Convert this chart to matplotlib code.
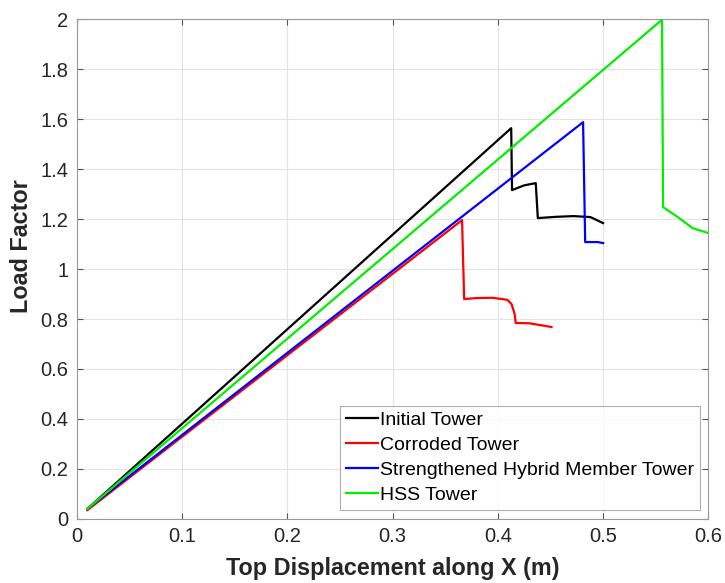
import matplotlib
matplotlib.use("Agg")
import matplotlib.pyplot as plt

plt.rcParams['font.family'] = ['Liberation Sans', 'DejaVu Sans']

# load-displacement data
init_x = [0.01, 0.4127, 0.4135, 0.425, 0.436, 0.438, 0.455, 0.472, 0.488, 0.5]
init_y = [0.04, 1.564, 1.316, 1.335, 1.344, 1.204, 1.209, 1.212, 1.208, 1.184]

corr_x = [0.01, 0.2, 0.366, 0.368, 0.38, 0.395, 0.409, 0.413, 0.416, 0.417, 0.43, 0.451]
corr_y = [0.035, 0.655, 1.196, 0.880, 0.884, 0.885, 0.877, 0.860, 0.820, 0.784, 0.783, 0.768]

hyb_x = [0.01, 0.481, 0.483, 0.495, 0.5]
hyb_y = [0.04, 1.588, 1.108, 1.108, 1.104]

hss_x = [0.01, 0.556, 0.557, 0.571, 0.585, 0.6]
hss_y = [0.04, 1.998, 1.248, 1.208, 1.164, 1.144]

fig = plt.figure(figsize=(7.25, 5.83), dpi=100)
ax = fig.add_axes([0.106, 0.110, 0.871, 0.857])

ax.plot(init_x, init_y, color='k', lw=1.6, label='Initial Tower')
ax.plot(corr_x, corr_y, color='r', lw=1.6, label='Corroded Tower')
ax.plot(hyb_x, hyb_y, color='b', lw=1.6, label='Strengthened Hybrid Member Tower')
ax.plot(hss_x, hss_y, color='#00ee00', lw=1.6, label='HSS Tower')

ax.set_xlim(0, 0.6)
ax.set_ylim(0, 2)
ax.set_xticks([0, 0.1, 0.2, 0.3, 0.4, 0.5, 0.6])
ax.set_xticklabels(['0', '0.1', '0.2', '0.3', '0.4', '0.5', '0.6'])
ax.set_yticks([0, 0.2, 0.4, 0.6, 0.8, 1, 1.2, 1.4, 1.6, 1.8, 2])
ax.set_yticklabels(['0', '0.2', '0.4', '0.6', '0.8', '1', '1.2', '1.4', '1.6', '1.8', '2'])
ax.grid(True, color='#e3e3e3', lw=0.8)
ax.tick_params(direction='in', top=True, right=True, labelsize=14.5,
               color='#555555', labelcolor='#262626', length=4, pad=6)
for s in ax.spines.values():
    s.set_color('#999999')

ax.set_xlabel('Top Displacement along X (m)', fontsize=16.8, fontweight='bold', color='#262626', labelpad=8)
ax.set_ylabel('Load Factor', fontsize=16.8, fontweight='bold', color='#262626')
ax.yaxis.set_label_coords(-0.07, 0.546)

leg = ax.legend(loc='lower right', bbox_to_anchor=(1.0, 0.0), fontsize=14,
                frameon=True, fancybox=False, edgecolor='#999999', handlelength=1.65,
                handletextpad=0.1, borderpad=0.3, labelspacing=0.38, borderaxespad=0.45)
leg.get_frame().set_linewidth(0.8)

fig.savefig('out.png', dpi=100)
